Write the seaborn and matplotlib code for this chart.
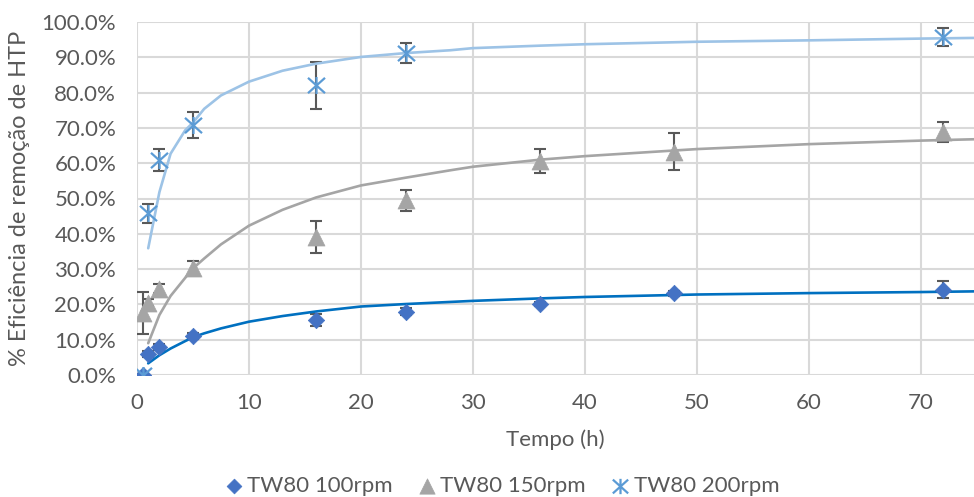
import numpy as np
import pandas as pd
import matplotlib
matplotlib.use("Agg")
import matplotlib.pyplot as plt
from matplotlib.path import Path
from matplotlib.ticker import PercentFormatter, MultipleLocator
import seaborn as sns

# Sampling times (h) and removal efficiency (%) with standard deviations
t_100 = [0.5, 1, 2, 5, 16, 24, 36, 48, 72]
y_100 = [0.0, 5.9, 8.0, 11.1, 15.6, 17.9, 20.1, 23.1, 24.2]
e_100 = [0.4, 0.8, 0.8, 0.8, 1.6, 1.0, 0.6, 0.6, 2.4]

t_150 = [0.5, 1, 2, 5, 16, 24, 36, 48, 72]
y_150 = [17.5, 20.5, 24.5, 30.2, 39.2, 49.5, 60.6, 63.3, 68.8]
e_150 = [6.0, 1.0, 1.2, 2.0, 4.5, 3.0, 3.5, 5.3, 2.8]

t_200 = [0.5, 1, 2, 5, 16, 24, 72]
y_200 = [0.0, 45.8, 60.8, 70.8, 82.1, 91.2, 95.7]
e_200 = [0.4, 2.7, 3.1, 3.8, 6.7, 2.8, 2.5]

# Kinetic trend curves
t_fit = [1, 2, 3, 4.3, 5, 6, 7.5, 10, 13, 16, 20, 24, 28, 30, 36, 40, 50, 60, 70, 75]
fit_100 = [3.3, 5.6, 7.5, 9.6, 10.7, 11.8, 13.2, 15.1, 16.7, 18.0, 19.4, 20.1,
           20.7, 21.0, 21.7, 22.1, 22.8, 23.2, 23.5, 23.7]
fit_150 = [9.0, 17.0, 22.4, 27.5, 30.2, 33.0, 37.0, 42.3, 46.8, 50.3, 53.7, 55.9,
           58.0, 59.0, 61.0, 62.0, 64.0, 65.4, 66.4, 66.8]
fit_200 = [35.9, 51.8, 62.7, 69.3, 71.5, 75.4, 79.2, 83.1, 86.2, 88.2, 90.1, 91.2,
           92.0, 92.6, 93.3, 93.7, 94.4, 94.8, 95.3, 95.5]

labels = ["TW80 100rpm", "TW80 150rpm", "TW80 200rpm"]
x_ticks = [0, 10, 20, 30, 40, 50, 60, 70]

sns.set_theme(style="white")
plt.rcParams["font.family"] = ["Lato", "DejaVu Sans"]

text_color = "#595959"
grid_color = "#D9D9D9"
fs = 16

# asterisk marker: vertical bar crossed by an X
star = Path(
    [(0, -1), (0, 1), (-1, -0.9), (1, 0.9), (-1, 0.9), (1, -0.9)],
    [Path.MOVETO, Path.LINETO, Path.MOVETO, Path.LINETO, Path.MOVETO, Path.LINETO],
)

fig = plt.figure(figsize=(9.74, 4.97), dpi=100)
ax = fig.add_axes([137 / 974, 1 - 375 / 497, (974 - 137) / 974, (375 - 22) / 497])

series = [
    (t_100, y_100, e_100, fit_100, "D", 70, "#4472C4", "#0070C0", 0),
    (t_150, y_150, e_150, fit_150, "^", 150, "#A5A5A5", "#A5A5A5", 1),
    (t_200, y_200, e_200, fit_200, star, 150, "#5B9BD5", "#9DC3E6", 2),
]

for t, y, e, fit, mk, size, mcol, lcol, i in series:
    ax.errorbar(t, y, yerr=e, fmt="none", ecolor="#595959", elinewidth=1.5,
                capsize=4.5, capthick=1.5, zorder=3)
    fit_df = pd.DataFrame({"t": t_fit, "v": fit})
    sns.lineplot(data=fit_df, x="t", y="v", ax=ax, color=lcol, linewidth=1.9,
                 zorder=4, legend=False, solid_joinstyle="round")
    pts = pd.DataFrame({"t": t, "v": y})
    sns.scatterplot(data=pts, x="t", y="v", ax=ax, marker=mk, s=size,
                    color=mcol, edgecolor=mcol, linewidth=1.6 if i == 2 else 0.5,
                    zorder=5, label=labels[i])

ax.set_xlim(0, 74.75)
ax.set_ylim(0, 100)
ax.set_xticks(x_ticks)
ax.yaxis.set_major_locator(MultipleLocator(10))
ax.yaxis.set_major_formatter(PercentFormatter(xmax=100, decimals=1))
ax.grid(True, color=grid_color, linewidth=1.5)
ax.set_axisbelow(True)
for sp in ax.spines.values():
    sp.set_visible(False)
ax.tick_params(axis="both", length=0, labelsize=fs, labelcolor=text_color)
ax.tick_params(axis="y", pad=15)
ax.tick_params(axis="x", pad=13)
ax.set_xlabel("Tempo (h)", fontsize=fs, color=text_color, labelpad=12)
ax.set_ylabel("% Eficiência de remoção de HTP", fontsize=17, color=text_color,
              labelpad=8)

leg = ax.legend(loc="center", bbox_to_anchor=(501 / 974, 1 - 486 / 497),
                bbox_transform=fig.transFigure, ncol=3, frameon=False,
                fontsize=fs, handletextpad=0.1, columnspacing=1.05,
                handlelength=1.0, markerscale=0.9)
for txt in leg.get_texts():
    txt.set_color(text_color)

fig.savefig("out.png", dpi=100)
